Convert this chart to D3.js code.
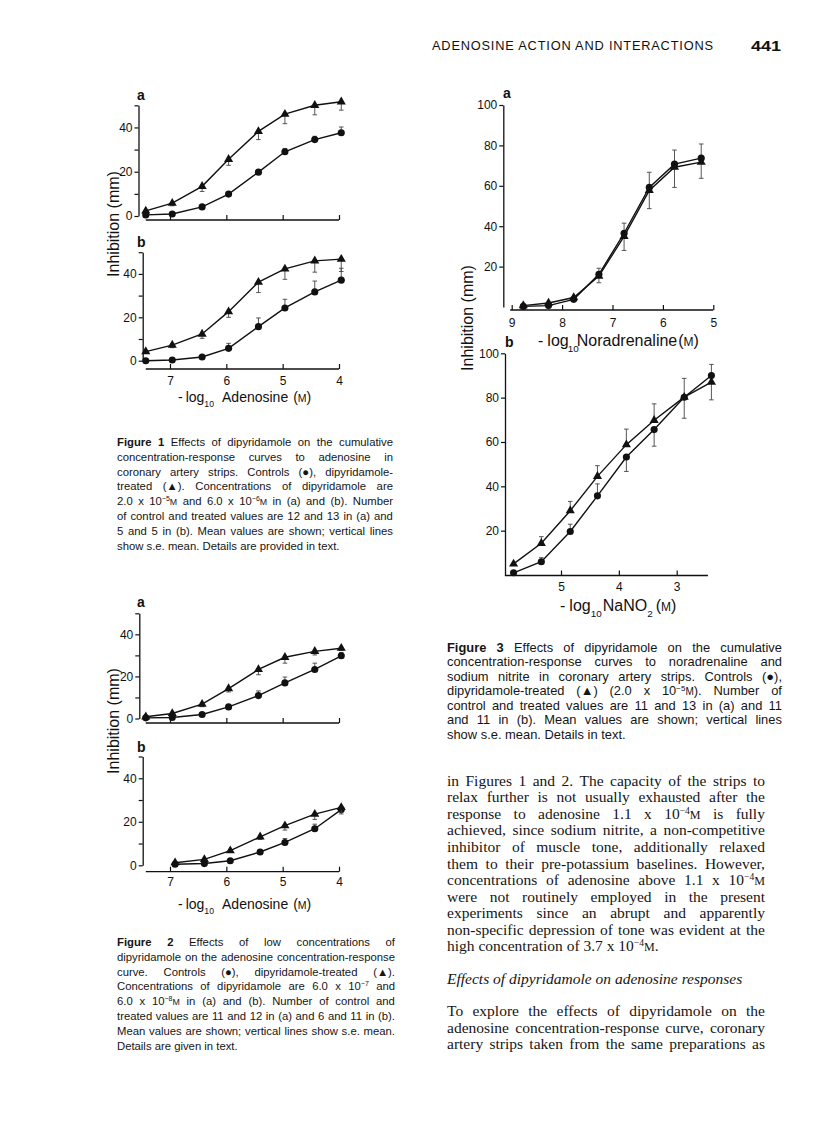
<!DOCTYPE html>
<html><head><meta charset="utf-8">
<script src="https://cdn.jsdelivr.net/npm/d3@7"></script>
<style>
html,body{margin:0;padding:0;background:#fff;}
#page{position:relative;width:816px;height:1140px;overflow:hidden;background:#fff;}
svg{position:absolute;left:0;top:0;}
.ln{position:absolute;display:flex;white-space:nowrap;color:#151515;}
.ln span{white-space:nowrap;}
.j{justify-content:space-between;}
.cap{font-family:"Liberation Sans",Arial,sans-serif;font-size:11.3px;line-height:14.8px;}
.cap.big{font-size:12.9px;}
.cap.l{gap:0.28em;}
.body{font-family:"Liberation Serif","Times New Roman",serif;font-size:15.5px;line-height:16.6px;}
.body.l{gap:0.25em;}
sup{font-size:0.62em;vertical-align:0;position:relative;top:-0.55em;}
small{font-size:0.78em;}
</style></head><body><div id="page"></div>
<script>
// ---------------- DATA ----------------
const adenosineX = [7.43, 6.96, 6.43, 5.96, 5.43, 4.96, 4.43, 3.96];
const adenosineX2b = [6.91, 6.39, 5.93, 5.40, 4.96, 4.43, 3.96];
const adenosineTicks = [7, 6, 5, 4];
const inhibitionTicks50 = [0, 10, 20, 30, 40, 50];
const inhibitionLabels50 = [0, 20, 40];

const fig1aControl = [0.5, 0.9, 4.1, 9.9, 19.8, 29.0, 34.5, 37.6];
const fig1aControlErr = [0, 0, 0.5, 0.8, 1.0, 1.5, 1.5, 2.6];
const fig1aDipyridamole = [2.3, 5.8, 13.4, 25.6, 38.2, 46.0, 50.0, 51.6];
const fig1aDipyridamoleErr = [-0.8, -1.2, -2.3, -2.7, -3.7, -4.3, -4.3, -3.8];

const fig1bControl = [0, 0.3, 1.7, 5.7, 15.7, 24.3, 31.7, 37.1];
const fig1bControlErr = [0, 0, 0.5, 2.3, 4.0, 4.0, 5.0, 5.5];
const fig1bDipyridamole = [4.2, 7.2, 12.3, 22.6, 36.2, 42.3, 46.0, 46.8];
const fig1bDipyridamoleErr = [-0.5, -1.2, -2.0, -2.6, -4.8, -4.8, -5.2, -5.7];

const fig2aControl = [0.3, 0.5, 1.9, 5.5, 10.9, 16.9, 23.3, 29.8];
const fig2aControlErr = [0, 0, 0.3, 0.8, 2.2, 2.8, 3.0, 1.6];
const fig2aDipyridamole = [0.8, 2.4, 6.8, 14.2, 23.3, 29.1, 31.9, 33.4];
const fig2aDipyridamoleErr = [-0.3, -0.5, -1.2, -1.6, -2.5, -2.8, -1.7, -1.0];

const fig2bControl = [0.5, 0.8, 2.1, 6.1, 10.5, 16.8, 25.6];
const fig2bControlErr = [0, 0, 0.3, 0.6, 1.8, 2.1, 1.0];
const fig2bDipyridamole = [1.2, 2.7, 6.7, 13.1, 18.2, 23.5, 26.6];
const fig2bDipyridamoleErr = [-0.3, -0.5, -0.8, -1.2, -2.0, -2.4, -3.0];

const noradrenalineX = [8.77, 8.27, 7.77, 7.27, 6.77, 6.27, 5.77, 5.24];
const noradrenalineTicks = [9, 8, 7, 6, 5];
const fig3aControl = [0.3, 0.7, 3.8, 16.2, 36.5, 59.2, 70.7, 73.7];
const fig3aControlErr = [0, 0, 0.5, 3.0, 5.0, 7.5, 7.0, 7.0];
const fig3aDipyridamole = [0.7, 2.0, 4.7, 15.3, 35.0, 57.7, 69.2, 71.7];
const fig3aDipyridamoleErr = [0, -0.3, -0.5, -3.3, -7.0, -9.0, -10.0, -8.0];

const nitriteX = [5.82, 5.34, 4.84, 4.37, 3.87, 3.39, 2.87, 2.40];
const nitriteTicks = [5, 4, 3];
const fig3bControl = [1.0, 6.0, 19.6, 35.7, 53.2, 65.6, 80.2, 90.0];
const fig3bControlErr = [0, 1.8, 3.3, 5.4, -6.5, -7.5, -9.5, 5.0];
const fig3bDipyridamole = [5.0, 14.3, 29.0, 44.5, 58.8, 69.8, 80.2, 87.0];
const fig3bDipyridamoleErr = [0, 3.0, 4.2, 4.8, 7.0, 7.4, 8.5, -8.0];
const inhibitionTicks100 = [20, 40, 60, 80, 100];

const headerText = "ADENOSINE ACTION AND INTERACTIONS";
const pageNumber = "441";
const yTitle = "Inhibition (mm)";

const caption1 = [
 "<b>Figure</b> <b>1</b> Effects of dipyridamole on the cumulative",
 "concentration-response curves to adenosine in",
 "coronary artery strips. Controls (●), dipyridamole-",
 "treated (▲). Concentrations of dipyridamole are",
 "2.0 x 10<sup>−5</sup><small>M</small> and 6.0 x 10<sup>−6</sup><small>M</small> in (a) and (b). Number",
 "of control and treated values are 12 and 13 in (a) and",
 "5 and 5 in (b). Mean values are shown; vertical lines",
 "show s.e. mean. Details are provided in text."
];
const caption2 = [
 "<b>Figure</b> <b>2</b> Effects of low concentrations of",
 "dipyridamole on the adenosine concentration-response",
 "curve. Controls (●), dipyridamole-treated (▲).",
 "Concentrations of dipyridamole are 6.0 x 10<sup>−7</sup> and",
 "6.0 x 10<sup>−8</sup><small>M</small> in (a) and (b). Number of control and",
 "treated values are 11 and 12 in (a) and 6 and 11 in (b).",
 "Mean values are shown; vertical lines show s.e. mean.",
 "Details are given in text."
];
const caption3 = [
 "<b>Figure</b> <b>3</b> Effects of dipyridamole on the cumulative",
 "concentration-response curves to noradrenaline and",
 "sodium nitrite in coronary artery strips. Controls (●),",
 "dipyridamole-treated (▲) (2.0 x 10<sup>−5</sup><small>M</small>). Number of",
 "control and treated values are 11 and 13 in (a) and 11",
 "and 11 in (b). Mean values are shown; vertical lines",
 "show s.e. mean. Details in text."
];
const bodyPara1 = [
 "in Figures 1 and 2. The capacity of the strips to",
 "relax further is not usually exhausted after the",
 "response to adenosine 1.1 x 10<sup>−4</sup><small>M</small> is fully",
 "achieved, since sodium nitrite, a non-competitive",
 "inhibitor of muscle tone, additionally relaxed",
 "them to their pre-potassium baselines. However,",
 "concentrations of adenosine above 1.1 x 10<sup>−4</sup><small>M</small>",
 "were not routinely employed in the present",
 "experiments since an abrupt and apparently",
 "non-specific depression of tone was evident at the",
 "high concentration of 3.7 x 10<sup>−4</sup><small>M</small>."
];
const bodyHeading = "<i>Effects</i> <i>of</i> <i>dipyridamole</i> <i>on</i> <i>adenosine</i> <i>responses</i>";
const bodyPara2 = [
 "To explore the effects of dipyridamole on the",
 "adenosine concentration-response curve, coronary",
 "artery strips taken from the same preparations as"
];

// ---------------- DRAWING ----------------
const FONT = '"Liberation Sans", Arial, sans-serif';
const page = d3.select('#page');
const svg = page.append('svg').attr('width', 816).attr('height', 1140);

function drawPanel(c) {
  const g = svg.append('g');
  const x = d3.scaleLinear().domain(c.xDomain).range(c.xRange);
  const y = d3.scaleLinear().domain(c.yDomain).range(c.yRange);
  const yAxis = d3.axisLeft(y).tickValues(c.yTicks).tickSizeInner(4).tickSizeOuter(0).tickPadding(2)
    .tickFormat(d => c.yLabels.indexOf(d) >= 0 ? String(d) : '');
  const ya = g.append('g').attr('transform', `translate(${c.yAxisX},0)`).call(yAxis);
  const xAxis = d3.axisBottom(x).tickValues(c.xTicks).tickSizeInner(-5).tickSizeOuter(0).tickPadding(c.xPad)
    .tickFormat(d => c.xLabels ? String(d) : '');
  const xa = g.append('g').attr('transform', `translate(0,${c.xAxisY})`).call(xAxis);
  xa.select('.domain').attr('d', `M${x(c.xExtent[0])},0H${x(c.xExtent[1])}`);
  [ya, xa].forEach(a => {
    a.select('.domain').attr('stroke', '#111').attr('stroke-width', 1.3);
    a.selectAll('.tick line').attr('stroke', '#111').attr('stroke-width', 1.2);
    a.selectAll('.tick text').attr('fill', '#111').style('font-family', FONT).style('font-size', '12px');
  });
  c.series.forEach(s => {
    const pts = c.x.map((xv, i) => ({x: xv, v: s.values[i], e: s.errors[i]}));
    g.append('g').selectAll('path').data(pts.filter(p => p.e)).join('path')
      .attr('d', p => {
        const px = x(p.x), y0 = y(p.v), y1 = y(p.v + p.e);
        return `M${px},${y0}V${y1}M${px - 2.3},${y1}H${px + 2.3}`;
      })
      .attr('stroke', '#444').attr('stroke-width', 0.9).attr('fill', 'none');
    g.append('path').datum(pts)
      .attr('d', d3.line().x(p => x(p.x)).y(p => y(p.v)))
      .attr('fill', 'none').attr('stroke', '#111').attr('stroke-width', 1.4);
    g.append('g').selectAll('path').data(pts).join('path')
      .attr('transform', p => `translate(${x(p.x)},${y(p.v)})`)
      .attr('d', d3.symbol(s.shape === 'triangle' ? d3.symbolTriangle : d3.symbolCircle,
                           s.shape === 'triangle' ? 36 : 40))
      .attr('fill', '#111');
  });
  g.append('text').attr('x', c.label[0]).attr('y', c.label[1]).text(c.label[2])
    .style('font-family', FONT).style('font-weight', 'bold').style('font-size', '14px').attr('fill', '#111');
}

function ctrl(v, e) { return {shape: 'circle', values: v, errors: e}; }
function dip(v, e) { return {shape: 'triangle', values: v, errors: e}; }

drawPanel({x: adenosineX, xDomain: [7, 4], xRange: [170, 339], yDomain: [0, 50], yRange: [216, 105.3],
  yAxisX: 138.5, xAxisY: 220, xExtent: [7.43, 4], xTicks: adenosineTicks, xLabels: false, xPad: 7,
  yTicks: inhibitionTicks50, yLabels: inhibitionLabels50, label: [137, 100, 'a'],
  series: [ctrl(fig1aControl, fig1aControlErr), dip(fig1aDipyridamole, fig1aDipyridamoleErr)]});
drawPanel({x: adenosineX, xDomain: [7, 4], xRange: [170, 339], yDomain: [0, 50], yRange: [360.7, 252.2],
  yAxisX: 142.7, xAxisY: 369, xExtent: [7.43, 4], xTicks: adenosineTicks, xLabels: true, xPad: 7,
  yTicks: inhibitionTicks50, yLabels: inhibitionLabels50, label: [137, 247, 'b'],
  series: [ctrl(fig1bControl, fig1bControlErr), dip(fig1bDipyridamole, fig1bDipyridamoleErr)]});
drawPanel({x: adenosineX, xDomain: [7, 4], xRange: [170, 339], yDomain: [0, 50], yRange: [718.5, 613.3],
  yAxisX: 139.3, xAxisY: 723, xExtent: [7.43, 4], xTicks: adenosineTicks, xLabels: false, xPad: 7,
  yTicks: inhibitionTicks50, yLabels: inhibitionLabels50, label: [137, 607, 'a'],
  series: [ctrl(fig2aControl, fig2aControlErr), dip(fig2aDipyridamole, fig2aDipyridamoleErr)]});
drawPanel({x: adenosineX2b, xDomain: [7, 4], xRange: [170, 339], yDomain: [0, 50], yRange: [865.3, 756.5],
  yAxisX: 142.7, xAxisY: 871.7, xExtent: [7.43, 4], xTicks: adenosineTicks, xLabels: true, xPad: 6,
  yTicks: inhibitionTicks50, yLabels: inhibitionLabels50, label: [137, 752, 'b'],
  series: [ctrl(fig2bControl, fig2bControlErr), dip(fig2bDipyridamole, fig2bDipyridamoleErr)]});
drawPanel({x: noradrenalineX, xDomain: [9, 5], xRange: [511.7, 713.3], yDomain: [0, 100], yRange: [307, 105],
  yAxisX: 503.3, xAxisY: 310, xExtent: [9.03, 5], xTicks: noradrenalineTicks, xLabels: true, xPad: 8,
  yTicks: inhibitionTicks100, yLabels: inhibitionTicks100, label: [503, 98, 'a'],
  series: [ctrl(fig3aControl, fig3aControlErr), dip(fig3aDipyridamole, fig3aDipyridamoleErr)]});
drawPanel({x: nitriteX, xDomain: [5, 3], xRange: [561, 676.7], yDomain: [0, 100], yRange: [575, 353.3],
  yAxisX: 505, xAxisY: 575.5, xExtent: [5.97, 2.46], xTicks: nitriteTicks, xLabels: true, xPad: 7,
  yTicks: inhibitionTicks100, yLabels: inhibitionTicks100, label: [505, 347, 'b'],
  series: [ctrl(fig3bControl, fig3bControlErr), dip(fig3bDipyridamole, fig3bDipyridamoleErr)]});

[[113.5, 224], [113.5, 721], [467.5, 318]].forEach(([cx, cy]) => {
  svg.append('text').attr('transform', `translate(${cx},${cy}) rotate(-90)`)
    .attr('text-anchor', 'middle').attr('dominant-baseline', 'central')
    .style('font-family', FONT).style('font-size', '16px').attr('fill', '#111').text(yTitle);
});

function xTitle(x0, yb, fs, parts) {
  const t = svg.append('text').attr('x', x0).attr('y', yb)
    .style('font-family', FONT).style('font-size', fs + 'px').attr('fill', '#111');
  let shifted = 0;
  parts.forEach(([txt, kind, dx]) => {
    const ts = t.append('tspan').text(txt).attr('dx', dx || 0);
    let target = 0;
    if (kind === 'sub') { ts.style('font-size', (fs * 0.62) + 'px'); target = fs * 0.38; }
    if (kind === 'small') { ts.style('font-size', (fs * 0.75) + 'px'); }
    ts.attr('dy', target - shifted); shifted = target;
  });
}
xTitle(178, 401.5, 14, [['-', '', 0], ['log', '', 3], ['10', 'sub', 0], ['Adenosine', '', 8], ['(', '', 5], ['M', 'small', 0], [')', '', 0]]);
xTitle(178, 909, 14, [['-', '', 0], ['log', '', 3], ['10', 'sub', 0], ['Adenosine', '', 8], ['(', '', 5], ['M', 'small', 0], [')', '', 0]]);
xTitle(538, 346, 16, [['-', '', 0], ['log', '', 4], ['10', 'sub', -1], ['Noradrenaline', '', -2], ['(', '', 1], ['M', 'small', 0], [')', '', 0]]);
xTitle(560, 611, 16, [['-', '', 0], ['log', '', 4], ['10', 'sub', 0], ['NaNO', '', 1], ['2', 'sub', 0], ['(', '', 3], ['M', 'small', 0], [')', '', 0]]);

svg.append('text').attr('x', 432).attr('y', 50).attr('textLength', 281).attr('lengthAdjust', 'spacing')
  .style('font-family', FONT).style('font-size', '12.8px').attr('fill', '#111').text(headerText);
svg.append('text').attr('x', 751).attr('y', 50.5).attr('textLength', 30).attr('lengthAdjust', 'spacingAndGlyphs')
  .style('font-family', FONT).style('font-size', '15px').style('font-weight', 'bold').attr('fill', '#111').text(pageNumber);

function textLines(lines, cls, x, w, ys, topOff, leftIdx) {
  lines.forEach((ln, i) => {
    const justify = leftIdx.indexOf(i) < 0;
    const div = page.append('div').attr('class', `ln ${cls} ${justify ? 'j' : 'l'}`)
      .style('left', x + 'px').style('top', (ys[i] - topOff) + 'px').style('width', w + 'px');
    ln.split(' ').filter(Boolean).forEach(wd => div.append('span').html(wd));
  });
}
const seq = (y0, dy, n) => d3.range(n).map(i => y0 + i * dy);
textLines(caption1, 'cap', 117, 276, seq(443.3, 14.8, 8), 8.4, [7]);
textLines(caption2, 'cap', 117, 278, seq(943.3, 14.8, 8), 8.4, [7]);
textLines(caption3, 'cap big', 447, 335, seq(650, 14.5, 7), 9.2, [6]);
textLines(bodyPara1, 'body', 447, 318, seq(782.7, 16.56, 11), 10, [10]);
textLines([bodyHeading], 'body', 447, 318, [981], 10, [0]);
textLines(bodyPara2, 'body', 447, 318, seq(1013, 16.5, 3), 10, []);
</script></body></html>
